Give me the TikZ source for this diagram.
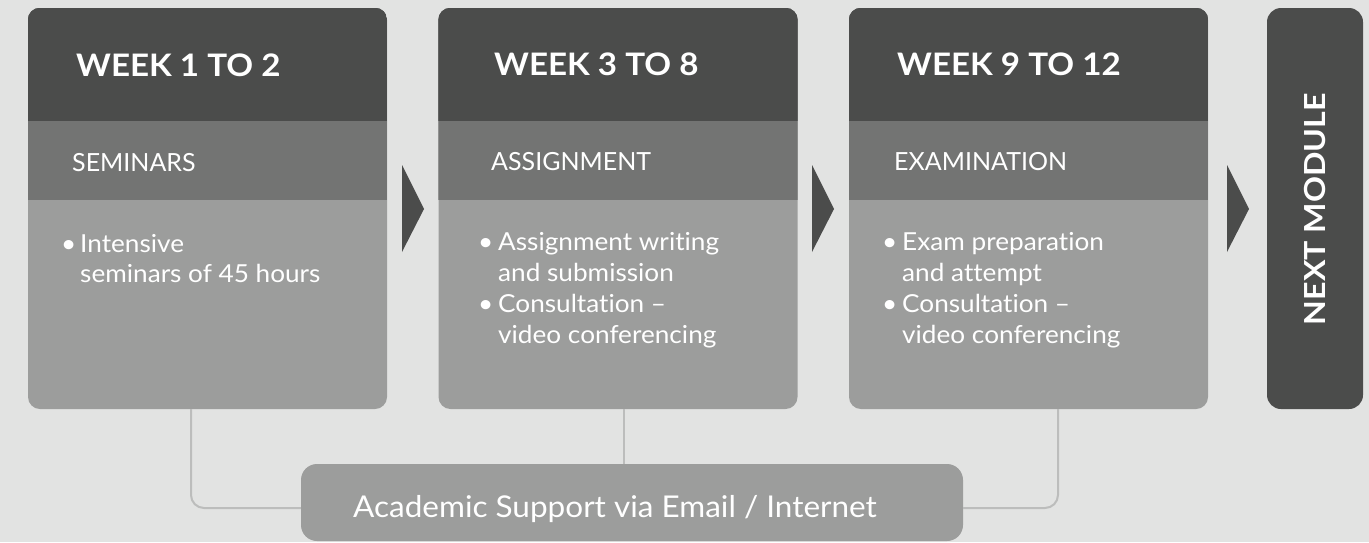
\documentclass[tikz,border=0pt]{standalone}
\usepackage{fontspec}
\setmainfont{Lato}[Ligatures=NoCommon]
\newfontfamily\hdrfont{Lato}[FakeStretch=1.07, Ligatures=NoCommon]
\newfontfamily\bodyfont{Lato}[FakeStretch=1.055, Ligatures=NoCommon]
\newfontfamily\supfont{Lato}[FakeStretch=1.05, Ligatures=NoCommon]
\newfontfamily\nmfont{Lato}[FakeStretch=1.11, Ligatures=NoCommon]
\definecolor{bgc}{HTML}{E2E3E2}
\definecolor{darkc}{HTML}{4B4C4B}
\definecolor{midc}{HTML}{737473}
\definecolor{lightc}{HTML}{9C9D9C}
\definecolor{linec}{HTML}{BCBDBC}
\tikzset{
  cardbox/.style={rectangle, fill=lightc, rounded corners=12pt, minimum width=359pt, minimum height=401pt, inner sep=0pt},
  hdr/.style={anchor=base west, inner sep=0pt, text=white, font=\hdrfont\fontsize{31}{36}\selectfont\bfseries},
  subt/.style={anchor=base west, inner sep=0pt, text=white, font=\fontsize{25}{30}\selectfont},
  bodyt/.style={anchor=base west, inner sep=0pt, text=white, font=\bodyfont\fontsize{24.8}{30}\selectfont},
  conn/.style={draw=linec, line width=2pt, rounded corners=13pt},
  tri/.style={fill=darkc},
}
\begin{document}
\begin{tikzpicture}[x=1pt,y=-1pt]
\useasboundingbox (0,0) rectangle (1369,542);
\fill[bgc] (0,0) rectangle (1369,542);
\coordinate (l1) at (191,0);
\coordinate (l2) at (624,0);
\coordinate (l3) at (1058,0);
\coordinate (ly) at (0,508);
% cards
\foreach \n/\xc in {c1/207.5, c2/618, c3/1028.5} {
  \node[cardbox] (\n) at (\xc,208.5) {};
  \begin{scope}
    \clip[rounded corners=12pt] (\n.north west) rectangle (\n.south east);
    \fill[midc] (\n.north west) rectangle ([yshift=-192pt]\n.north east);
    \fill[darkc] (\n.north west) rectangle ([yshift=-113pt]\n.north east);
  \end{scope}
}
\node[rectangle, fill=darkc, rounded corners=14pt, minimum width=96pt, minimum height=401pt, inner sep=0pt] (nm) at (1315,208.5) {};
\node[rotate=90, text=white, inner sep=0pt, font=\nmfont\fontsize{29}{34}\selectfont\bfseries] (nmt) at (1315,209) {NEXT MODULE};
\node[rectangle, fill=lightc, rounded corners=16pt, minimum width=662pt, minimum height=77pt, inner sep=0pt] (sup) at (632,502.5) {};
\node[anchor=base west, inner sep=0pt, text=white, font=\supfont\fontsize{30}{36}\selectfont] (supt) at (353,517) {Academic Support via Email / Internet};
\draw[conn] (c1.south -| l1) |- (sup.west |- ly);
\draw[conn] (c2.south -| l2) -- (sup.north -| l2);
\draw[conn] (c3.south -| l3) |- (sup.east |- ly);
% arrows
\fill[tri] (402,165) -- (424,209) -- (402,252) -- cycle;
\fill[tri] (812,165) -- (834,209) -- (812,252) -- cycle;
\fill[tri] (1227,165) -- (1249,209) -- (1227,252) -- cycle;
% card 1
\node[hdr] (h1) at (76,76) {WEEK 1 TO 2};
\node[subt] (s1) at (72,171) {SEMINARS};
\node[bodyt] (b1a) at (61,252) {•};
\node[bodyt] (t1a) at (80,252) {Intensive};
\node[bodyt] (t1b) at (80,282) {seminars of 45 hours};
% card 2
\node[hdr] (h2) at (494,75) {WEEK 3 TO 8};
\node[subt] (s2) at (491,170) {ASSIGNMENT};
\node[bodyt] (b2a) at (478,250) {•};
\node[bodyt] (t2a) at (498,250) {Assignment writing};
\node[bodyt] (t2b) at (498,281) {and submission};
\node[bodyt] (b2b) at (478,312) {•};
\node[bodyt] (t2c) at (498,312) {Consultation –};
\node[bodyt] (t2d) at (498,343) {video conferencing};
% card 3
\node[hdr] (h3) at (897,75) {WEEK 9 TO 12};
\node[subt] (s3) at (894,170) {EXAMINATION};
\node[bodyt] (b3a) at (882,250) {•};
\node[bodyt] (t3a) at (902,250) {Exam preparation};
\node[bodyt] (t3b) at (902,281) {and attempt};
\node[bodyt] (b3b) at (882,312) {•};
\node[bodyt] (t3c) at (902,312) {Consultation –};
\node[bodyt] (t3d) at (902,343) {video conferencing};
\end{tikzpicture}
\end{document}
